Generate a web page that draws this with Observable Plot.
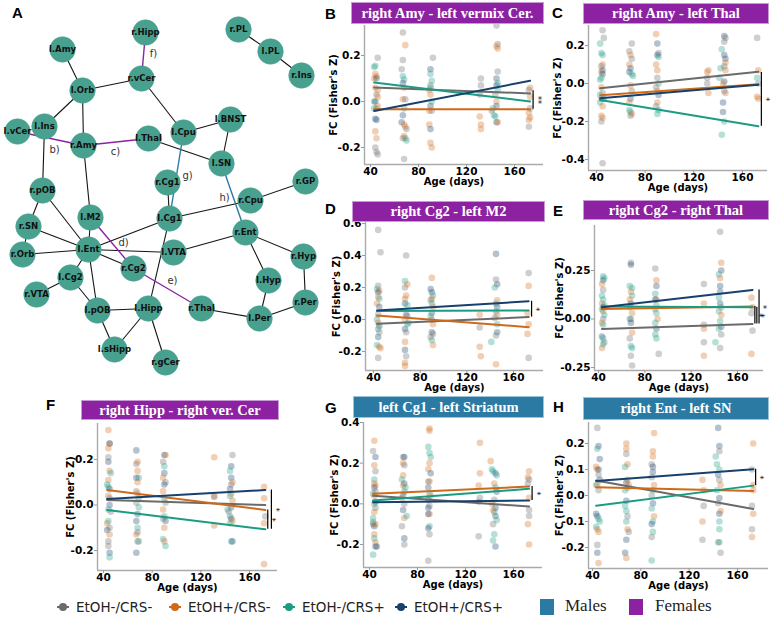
<!DOCTYPE html>
<html><head><meta charset="utf-8">
<script src="https://cdn.jsdelivr.net/npm/d3@7"></script>
<script src="https://cdn.jsdelivr.net/npm/@observablehq/plot@0.6"></script>
<style>
html,body{margin:0;padding:0;background:#fff;}
#fig{position:relative;width:772px;height:622px;overflow:hidden;background:#fff;}
#fig svg{position:absolute;overflow:visible;}
.letter{position:absolute;font:bold 15px "Liberation Sans",Arial,sans-serif;line-height:15px;color:#000;z-index:3;}
.banner{position:absolute;color:#fff;font:bold 14.5px "Liberation Serif","Times New Roman",serif;text-align:center;white-space:nowrap;z-index:2;}
.legend-item{position:absolute;font:13.5px "DejaVu Sans",sans-serif;color:#222;line-height:16px;white-space:nowrap;}
.sex-label{position:absolute;font:17px "Liberation Serif","Times New Roman",serif;color:#222;line-height:18px;white-space:nowrap;}
</style></head>
<body><div id="fig"></div>
<script>
// ---------- groups ----------
const groupKeys = ["g", "o", "t", "n"];
const groupNames = ["EtOH-/CRS-", "EtOH+/CRS-", "EtOH-/CRS+", "EtOH+/CRS+"];
const groupColors = ["#6b6b6b", "#cf6a19", "#1a9c82", "#17406d"];
const sexNames = ["Males", "Females"];
const sexColors = ["#2b7aa4", "#8c22a2"];

// ---------- network (panel A) : node name, layout x, layout y ----------
const nodes = [
  ["r.Hipp",145,32],["l.Amy",62,49],["r.PL",238,29],["l.PL",270,51],["r.Ins",301,75],
  ["r.vCer",141,78],["l.Orb",82,90],["l.Ins",44,126],["l.vCer",17,131],["r.Amy",83,145],
  ["l.Thal",148,138],["l.Cpu",183,132],["l.BNST",230,119],["l.SN",221,163],["r.Cg1",167,182],
  ["r.GP",305,181],["r.Cpu",250,200],["r.pOB",42,190],["l.M2",90,217],["l.Cg1",169,218],
  ["r.SN",28,226],["r.Ent",245,232],["l.Ent",88,249],["r.Orb",22,254],["l.VTA",173,252],
  ["r.Hyp",303,256],["r.Cg2",133,268],["l.Cg2",70,277],["l.Hyp",268,280],["r.VTA",36,294],
  ["r.Per",305,302],["l.pOB",97,310],["l.Hipp",148,308],["r.Thal",201,308],["l.Per",259,318],
  ["l.sHipp",114,349],["r.gCer",165,362]
];
// edges: source, target, kind ("" = shared, "F" = females, "M" = males)
const edges = [
  ["r.PL","l.PL",""],["l.PL","r.Ins",""],
  ["l.Amy","l.Orb",""],["l.Orb","r.vCer",""],["l.Orb","l.Ins",""],["l.Orb","r.Amy",""],
  ["r.vCer","l.Cpu",""],["l.Cpu","l.BNST",""],["l.BNST","l.SN",""],["l.Thal","l.SN",""],
  ["r.Amy","l.M2",""],["l.Ins","r.pOB",""],["r.Cg1","l.Cg1",""],["l.Cg1","r.Cpu",""],
  ["r.Cpu","r.GP",""],["r.pOB","r.SN",""],["r.pOB","l.Ent",""],["r.SN","l.Ent",""],
  ["r.SN","r.Orb",""],["r.Orb","l.Ent",""],["l.M2","l.Ent",""],["l.Ent","l.Cg1",""],
  ["l.Ent","l.VTA",""],["l.Ent","r.Cg2",""],["l.Ent","l.Cg2",""],["l.Ent","l.pOB",""],
  ["l.Cg2","r.VTA",""],["l.Cg2","l.pOB",""],["l.pOB","l.Hipp",""],["l.pOB","l.sHipp",""],
  ["l.Hipp","l.sHipp",""],["l.Hipp","r.gCer",""],["l.Cg1","l.Hipp",""],["l.VTA","r.Ent",""],
  ["r.Ent","r.Hyp",""],["r.Ent","l.Hyp",""],["r.Hyp","r.Per",""],["l.Hyp","l.Per",""],
  ["l.Per","r.Per",""],["r.Thal","l.Per",""],
  ["l.vCer","r.Amy","F"],["r.Amy","l.Thal","F"],["l.M2","r.Cg2","F"],["r.Cg2","r.Thal","F"],
  ["r.vCer","r.Hipp","F"],["l.Cpu","l.Cg1","M"],["l.SN","r.Ent","M"]
];
const edgeTags = [["b)",54,149],["c)",115,151],["d)",123,242],["e)",172,280],["f)",153,53],["g)",187,175],["h)",224,197]];

// ---------- panels B-H ----------
const panelKeys = ["B","C","D","E","F","G","H"];
const panelTitles = ["right Amy - left vermix Cer.","right Amy - left Thal","right Cg2 - left M2","right Cg2 - right Thal","right Hipp - right ver. Cer","left Cg1 - left Striatum","right Ent - left SN"];
const panelSex = ["Females","Females","Females","Females","Females","Males","Males"];
const xTicks = [40, 80, 120, 160];
const yTicksByPanel = [[-0.2,0,0.2],[-0.4,-0.2,0,0.2],[-0.2,0,0.2,0.4,0.6],[-0.25,0,0.25],[-0.2,0,0.2],[-0.2,0,0.2,0.4],[-0.2,-0.1,0,0.1,0.2]];
const lineAges = [43, 173];

// individual FC values: [age, FC, group]
const ptsB = [
  [44,0.155,"t"],[43,0.15,"t"],[46,0.19,"g"],[44,0.12,"o"],[45,0.11,"o"],[43,0.1,"o"],[45,0.1,"n"],[44,0.06,"o"],[46,0.05,"o"],[45,0.03,"g"],[43,0.0,"t"],[44,0.0,"n"],[45,-0.03,"g"],[46,-0.02,"o"],[44,-0.075,"n"],[45,-0.08,"n"],[44,-0.13,"o"],[45,-0.16,"o"],[44,-0.2,"g"],[45,-0.22,"g"],[46,-0.23,"g"],[43,-0.03,"t"],[46,0.02,"o"],
  [67,0.3,"g"],[69,0.245,"o"],[67,0.18,"g"],[66,0.14,"g"],[67,0.11,"t"],[68,0.095,"t"],[67,0.08,"n"],[68,0.06,"o"],[67,0.01,"o"],[69,0.01,"g"],[68,-0.03,"t"],[67,-0.06,"n"],[66,-0.09,"n"],[68,-0.1,"o"],[69,-0.11,"o"],[70,-0.12,"g"],[69,-0.16,"t"],[70,-0.17,"t"],[67,-0.16,"g"],[68,-0.15,"o"],[68,-0.25,"g"],
  [92,0.19,"g"],[90,0.14,"n"],[90,0.12,"t"],[91,0.09,"t"],[90,0.07,"g"],[89,0.05,"o"],[90,0.03,"o"],[91,0.0,"t"],[90,-0.02,"n"],[89,-0.04,"o"],[89,-0.1,"o"],[90,-0.12,"n"],[90,-0.18,"o"],[91,-0.2,"o"],[91,-0.04,"g"],[90,0.06,"t"],
  [132,0.1,"g"],[132,0.07,"g"],[131,-0.065,"o"],[132,-0.1,"o"],[132,-0.12,"o"],[131,0.03,"g"],
  [145,0.33,"g"],[146,0.25,"g"],[145,0.24,"o"],[146,0.23,"o"],[146,0.13,"g"],[145,0.1,"n"],[146,0.08,"t"],[145,0.07,"n"],[146,0.05,"t"],[144,0.03,"g"],[145,0.0,"o"],[145,-0.02,"n"],[142,-0.03,"t"],[143,-0.06,"t"],[144,-0.065,"t"],[145,-0.09,"n"],[146,-0.09,"o"],[141,-0.04,"g"],
  [173,0.06,"o"],[172,0.05,"g"],[173,0.02,"o"],[172,-0.05,"o"],[173,-0.07,"o"],[172,-0.08,"o"],[172,-0.11,"g"],[173,-0.03,"g"]
];
const ptsC = [
  [45,0.28,"g"],[46,0.24,"g"],[43,0.21,"t"],[44,0.16,"t"],[45,0.15,"t"],[45,0.1,"o"],[44,0.09,"g"],[45,0.07,"n"],[44,0.06,"o"],[45,0.05,"n"],[44,0.03,"t"],[43,0.02,"t"],[44,-0.02,"o"],[45,-0.05,"g"],[44,-0.08,"o"],[43,-0.1,"t"],[45,-0.12,"o"],[44,-0.17,"o"],[45,-0.18,"o"],[44,-0.2,"g"],[45,-0.42,"g"],[46,-0.08,"n"],[43,-0.06,"t"],
  [69,0.21,"g"],[67,0.17,"g"],[68,0.15,"o"],[69,0.13,"g"],[67,0.1,"o"],[68,0.08,"n"],[67,0.06,"n"],[69,0.05,"t"],[70,0.04,"t"],[68,-0.01,"o"],[69,-0.04,"g"],[68,-0.08,"n"],[67,-0.14,"t"],[68,-0.15,"t"],[69,-0.16,"o"],[68,-0.17,"g"],[67,-0.1,"o"],
  [89,0.26,"o"],[90,0.21,"n"],[91,0.16,"g"],[90,0.15,"n"],[91,0.14,"t"],[89,0.1,"o"],[90,0.07,"o"],[90,0.03,"g"],[91,0.0,"t"],[89,-0.02,"g"],[90,-0.04,"o"],[91,-0.06,"n"],[90,-0.1,"o"],[91,-0.14,"t"],[90,-0.16,"t"],[89,-0.12,"g"],
  [132,0.07,"o"],[131,0.06,"o"],[131,0.03,"g"],[132,-0.05,"o"],[131,0.0,"g"],
  [145,0.25,"n"],[146,0.24,"g"],[145,0.22,"g"],[143,0.18,"t"],[145,0.15,"n"],[146,0.13,"n"],[146,0.11,"o"],[145,0.09,"g"],[142,0.08,"t"],[146,0.07,"o"],[141,0.03,"t"],[145,0.01,"n"],[144,0.0,"o"],[144,-0.1,"n"],[144,-0.15,"n"],[145,-0.2,"t"],[143,-0.27,"t"],[146,-0.05,"o"],[145,-0.04,"g"],
  [172,0.24,"g"],[173,0.07,"o"],[172,0.03,"t"],[172,-0.07,"o"],[173,-0.08,"o"],[173,0.0,"g"]
];
const ptsD = [
  [44,0.56,"g"],[46,0.42,"g"],[44,0.21,"g"],[43,0.19,"t"],[45,0.18,"o"],[44,0.17,"n"],[44,0.14,"o"],[45,0.13,"t"],[43,0.1,"o"],[45,0.08,"n"],[44,0.03,"g"],[43,0.0,"t"],[44,-0.02,"o"],[45,-0.04,"n"],[44,-0.06,"t"],[45,-0.08,"g"],[44,-0.11,"n"],[43,-0.16,"t"],[45,-0.17,"o"],[46,-0.18,"o"],[44,-0.24,"g"],
  [68,0.4,"g"],[67,0.24,"t"],[67,0.2,"g"],[69,0.22,"o"],[68,0.15,"o"],[67,0.13,"o"],[67,0.1,"n"],[69,0.09,"t"],[68,0.03,"n"],[69,0.02,"g"],[67,0.0,"o"],[69,-0.03,"t"],[67,-0.06,"n"],[68,-0.08,"g"],[67,-0.14,"o"],[67,-0.19,"n"],[68,-0.23,"g"],[67,-0.27,"o"],[67,-0.29,"o"],[70,-0.02,"t"],
  [90,0.26,"o"],[89,0.19,"n"],[90,0.17,"n"],[91,0.15,"t"],[90,0.13,"o"],[89,0.12,"g"],[90,0.1,"t"],[91,0.08,"o"],[90,0.04,"n"],[89,0.02,"t"],[90,0.0,"g"],[91,-0.03,"o"],[90,-0.08,"n"],[89,-0.11,"g"],[90,-0.13,"t"],[91,-0.16,"o"],[91,-0.09,"g"],
  [131,0.03,"o"],[131,-0.05,"g"],[131,-0.17,"o"],[132,-0.23,"o"],
  [145,0.41,"n"],[145,0.25,"g"],[146,0.22,"n"],[144,0.2,"t"],[145,0.1,"t"],[146,0.08,"n"],[145,0.05,"t"],[146,0.03,"o"],[144,0.01,"g"],[146,-0.03,"t"],[146,-0.08,"n"],[145,-0.1,"g"],[141,-0.14,"t"],[145,-0.28,"o"],[146,0.12,"o"],
  [173,0.29,"g"],[173,0.21,"o"],[172,0.04,"o"],[173,-0.03,"o"],[172,-0.09,"o"],[173,-0.24,"g"]
];
const ptsE = [
  [44,0.22,"t"],[44,0.2,"n"],[45,0.21,"t"],[43,0.18,"o"],[44,0.15,"g"],[43,0.12,"t"],[44,0.1,"t"],[43,0.08,"o"],[45,0.07,"t"],[44,0.06,"n"],[43,0.05,"t"],[44,0.04,"o"],[45,0.02,"t"],[44,0.0,"g"],[43,-0.02,"o"],[44,-0.03,"t"],[43,-0.09,"n"],[44,-0.1,"t"],[45,-0.12,"g"],[43,-0.15,"o"],[44,-0.13,"t"],
  [68,0.29,"g"],[68,0.28,"n"],[67,0.17,"t"],[69,0.16,"t"],[68,0.14,"o"],[69,0.12,"t"],[67,0.1,"o"],[68,0.08,"n"],[67,0.06,"t"],[69,0.03,"o"],[68,0.0,"t"],[67,0.0,"g"],[68,-0.02,"n"],[69,-0.07,"o"],[67,-0.1,"g"],[68,-0.14,"t"],[69,-0.15,"t"],[68,-0.19,"g"],[69,-0.24,"g"],
  [89,0.26,"g"],[90,0.2,"o"],[90,0.17,"n"],[89,0.13,"t"],[90,0.1,"o"],[89,0.1,"n"],[90,0.07,"t"],[89,0.05,"g"],[90,0.03,"t"],[91,0.0,"o"],[89,-0.02,"t"],[90,-0.05,"n"],[89,-0.08,"t"],[90,-0.1,"t"],[92,-0.18,"g"],
  [131,0.18,"g"],[131,0.08,"o"],[131,-0.03,"g"],[131,-0.05,"o"],[131,-0.12,"g"],[131,-0.19,"o"],
  [145,0.45,"g"],[146,0.29,"o"],[146,0.25,"n"],[144,0.23,"t"],[145,0.21,"o"],[145,0.17,"n"],[145,0.14,"n"],[144,0.11,"t"],[145,0.08,"n"],[146,0.06,"g"],[144,0.04,"t"],[146,0.02,"o"],[145,-0.01,"t"],[146,-0.04,"n"],[144,-0.05,"t"],[146,-0.08,"g"],[141,-0.12,"t"],[145,-0.15,"g"],
  [172,0.11,"o"],[173,0.06,"o"],[172,0.03,"g"],[173,-0.06,"g"],[172,-0.18,"o"]
];
const ptsF = [
  [44,0.33,"o"],[45,0.27,"o"],[45,0.27,"n"],[44,0.25,"o"],[44,0.21,"g"],[44,0.19,"n"],[45,0.15,"o"],[46,0.14,"t"],[44,0.11,"o"],[43,0.09,"t"],[44,0.08,"t"],[45,0.07,"n"],[44,0.04,"o"],[45,0.03,"g"],[45,0.0,"n"],[44,-0.02,"t"],[46,-0.03,"g"],[43,-0.08,"o"],[44,-0.07,"t"],[45,-0.1,"g"],[43,-0.11,"n"],[45,-0.13,"o"],[44,-0.16,"g"],[44,-0.18,"g"],[45,-0.21,"n"],[45,-0.23,"t"],
  [67,0.24,"n"],[68,0.19,"o"],[67,0.18,"g"],[68,0.15,"o"],[69,0.12,"t"],[67,0.12,"n"],[68,0.1,"o"],[67,0.06,"g"],[68,0.05,"o"],[69,0.03,"t"],[67,0.01,"g"],[69,-0.01,"t"],[68,-0.04,"n"],[67,-0.07,"n"],[68,-0.1,"t"],[67,-0.13,"o"],[68,-0.12,"g"],[69,-0.16,"t"],[67,-0.21,"n"],[68,-0.16,"g"],
  [90,0.22,"n"],[91,0.22,"o"],[89,0.19,"g"],[90,0.17,"t"],[90,0.14,"n"],[89,0.12,"o"],[91,0.1,"g"],[90,0.09,"n"],[89,0.06,"o"],[90,0.03,"t"],[91,0.01,"g"],[89,-0.02,"o"],[90,-0.05,"t"],[91,-0.07,"n"],[90,-0.1,"o"],[89,-0.15,"t"],[90,-0.16,"o"],[91,-0.18,"t"],[89,-0.06,"g"],
  [131,0.21,"o"],[131,0.04,"o"],[131,0.035,"g"],[131,-0.09,"o"],
  [146,0.22,"g"],[145,0.17,"n"],[144,0.15,"t"],[145,0.12,"n"],[146,0.1,"o"],[145,0.09,"g"],[144,0.07,"n"],[145,0.05,"o"],[144,0.04,"t"],[146,0.02,"o"],[145,-0.01,"n"],[142,-0.02,"t"],[144,-0.05,"t"],[145,-0.06,"n"],[144,-0.08,"t"],[146,-0.07,"o"],[145,-0.16,"t"],[146,-0.16,"n"],[143,-0.03,"g"],
  [172,0.08,"o"],[172,0.03,"o"],[173,-0.05,"g"],[172,-0.08,"o"],[172,-0.26,"o"]
];
const ptsG = [
  [44,0.31,"o"],[43,0.26,"g"],[45,0.23,"n"],[44,0.19,"o"],[45,0.16,"g"],[44,0.12,"t"],[44,0.1,"o"],[45,0.09,"o"],[44,0.08,"n"],[45,0.06,"g"],[43,0.05,"t"],[44,0.04,"o"],[45,0.01,"n"],[44,0.0,"t"],[45,-0.02,"g"],[44,-0.04,"o"],[43,-0.07,"t"],[43,-0.09,"t"],[43,-0.1,"g"],[44,-0.11,"n"],[45,-0.1,"o"],[44,-0.15,"o"],[44,-0.17,"t"],[45,-0.21,"n"],[46,-0.21,"n"],[43,-0.25,"t"],[45,-0.19,"o"],
  [68,0.23,"g"],[69,0.23,"n"],[68,0.2,"o"],[69,0.19,"g"],[68,0.14,"o"],[67,0.12,"t"],[69,0.1,"n"],[68,0.09,"o"],[70,0.08,"t"],[69,0.06,"t"],[68,0.04,"n"],[67,0.03,"o"],[69,0.0,"g"],[68,-0.03,"n"],[69,-0.07,"o"],[71,-0.06,"t"],[67,-0.11,"g"],[69,-0.17,"n"],[69,-0.2,"g"],
  [90,0.37,"o"],[90,0.36,"o"],[89,0.28,"t"],[90,0.25,"t"],[91,0.23,"t"],[90,0.2,"o"],[89,0.17,"o"],[91,0.15,"n"],[90,0.11,"o"],[89,0.11,"g"],[89,0.08,"n"],[90,0.05,"t"],[91,0.04,"o"],[89,0.02,"n"],[90,-0.01,"g"],[89,-0.02,"n"],[90,-0.05,"o"],[89,-0.05,"n"],[90,-0.11,"t"],[89,-0.12,"n"],[90,-0.15,"g"],[89,-0.28,"g"],
  [132,0.3,"o"],[132,0.15,"o"],[131,0.09,"o"],[132,0.03,"g"],[131,0.01,"g"],[131,-0.16,"g"],
  [141,0.21,"o"],[142,0.17,"t"],[143,0.16,"t"],[145,0.15,"n"],[146,0.14,"t"],[144,0.1,"o"],[145,0.08,"t"],[146,0.06,"n"],[144,0.02,"g"],[142,0.0,"o"],[145,-0.02,"n"],[144,-0.04,"t"],[143,-0.03,"o"],[145,-0.06,"n"],[146,-0.08,"t"],[143,-0.1,"g"],[144,-0.15,"t"],[143,-0.18,"t"],[145,-0.21,"n"],
  [173,0.16,"o"],[172,0.13,"o"],[173,0.12,"g"],[172,0.1,"g"],[173,0.03,"o"],[173,-0.03,"g"],[173,-0.06,"g"],[172,-0.1,"o"],[173,-0.2,"o"]
];
const ptsH = [
  [44,0.26,"g"],[45,0.19,"n"],[44,0.18,"t"],[46,0.14,"n"],[43,0.11,"o"],[44,0.1,"o"],[45,0.1,"n"],[45,0.08,"g"],[46,0.06,"n"],[44,0.04,"o"],[43,0.04,"t"],[45,0.02,"g"],[43,-0.07,"n"],[44,-0.08,"n"],[45,-0.09,"t"],[46,-0.1,"t"],[44,-0.13,"o"],[43,-0.12,"t"],[45,-0.14,"o"],[44,-0.19,"g"],[44,-0.22,"n"],[45,-0.26,"o"],
  [68,0.2,"o"],[68,0.18,"o"],[68,0.16,"g"],[69,0.12,"o"],[67,0.11,"t"],[69,0.06,"o"],[68,0.05,"n"],[70,0.04,"o"],[69,0.03,"g"],[67,0.02,"t"],[68,-0.02,"n"],[67,-0.04,"t"],[68,-0.06,"t"],[69,-0.08,"g"],[68,-0.1,"t"],[69,-0.13,"o"],[70,-0.14,"g"],[68,-0.17,"n"],[67,-0.22,"n"],[68,-0.24,"o"],
  [91,0.24,"o"],[90,0.17,"o"],[90,0.15,"o"],[89,0.12,"g"],[90,0.11,"n"],[90,0.09,"n"],[89,0.07,"g"],[91,0.04,"o"],[90,0.02,"t"],[89,0.0,"g"],[90,-0.03,"n"],[89,-0.05,"t"],[91,-0.08,"o"],[90,-0.1,"t"],[89,-0.11,"n"],[90,-0.14,"t"],[89,-0.16,"g"],[89,-0.25,"t"],
  [131,0.06,"o"],[132,0.02,"o"],[132,-0.04,"g"],[131,-0.1,"o"],[131,-0.17,"g"],
  [144,0.26,"n"],[145,0.19,"n"],[145,0.17,"g"],[142,0.15,"t"],[143,0.12,"t"],[145,0.1,"t"],[144,0.08,"n"],[145,0.06,"g"],[146,0.04,"o"],[143,0.02,"t"],[145,-0.01,"n"],[144,-0.03,"g"],[145,-0.07,"n"],[146,-0.06,"o"],[145,-0.1,"t"],[145,-0.13,"t"],[144,-0.18,"g"],[145,-0.18,"t"],[146,-0.22,"g"],
  [173,0.2,"o"],[172,0.1,"g"],[173,0.04,"o"],[173,0.02,"o"],[172,-0.04,"g"],[173,-0.07,"o"],[172,-0.13,"g"],[172,-0.16,"o"]
];

// fitted lines: group, FC at first age, FC at last age
const fitB = [["g",0.061,0.035],["o",-0.034,-0.034],["t",0.083,0.0],["n",-0.041,0.09]];
const fitC = [["g",-0.025,0.062],["o",-0.062,-0.004],["t",-0.087,-0.225],["n",-0.078,-0.007]];
const fitD = [["g",-0.027,0.015],["o",0.025,-0.048],["t",0.053,0.057],["n",0.057,0.114]];
const fitE = [["g",-0.052,-0.026],["o",0.052,0.064],["t",0.064,0.06],["n",0.06,0.15]];
const fitF = [["g",0.022,0.0],["o",0.066,-0.022],["t",-0.022,-0.107],["n",0.026,0.066]];
const fitG = [["g",0.04,-0.013],["o",0.049,0.085],["t",0.016,0.074],["n",0.008,0.016]];
const fitH = [["g",0.058,-0.052],["o",0.032,0.017],["t",-0.039,0.038],["n",0.056,0.101]];

// slope comparisons: age, FC top, FC bottom, stars
const sigB = [[175.5,0.047,-0.034,"**"]];
const sigC = [[175.5,0.058,-0.225,"*"]];
const sigD = [[175.5,0.114,0.015,"*"]];
const sigE = [[175,0.064,-0.026,"*"],[176.7,0.06,-0.026,"*"],[178.6,0.15,-0.026,"*"]];
const sigF = [[175,-0.022,-0.107,"*"],[178,0.066,-0.107,"*"]];
const sigG = [[175.5,0.085,0.016,"*"]];
const sigH = [[175,0.101,0.038,"*"]];

const panelPoints = [ptsB, ptsC, ptsD, ptsE, ptsF, ptsG, ptsH];
const panelFits = [fitB, fitC, fitD, fitE, fitF, fitG, fitH];
const panelSig = [sigB, sigC, sigD, sigE, sigF, sigG, sigH];

// ---------- page layout (pixels) ----------
const frames = {
  B: {left:364,right:543,top:25,bottom:164,x40:370,x160:514,ya:[0.2,55],yb:[-0.2,147],dec:1,ylab:31,banner:[352,3,191,20],letter:[325,6]},
  C: {left:588,right:767,top:25,bottom:170,x40:596,x160:742,ya:[0.2,45],yb:[-0.4,159],dec:1,ylab:31,banner:[584,4,184,19],letter:[552,5]},
  D: {left:365,right:543,top:222,bottom:370,x40:373,x160:513,ya:[0.6,223],yb:[-0.2,351],dec:1,ylab:29,banner:[353,202,191,19],letter:[325,201]},
  E: {left:594,right:763,top:225,bottom:370,x40:598,x160:737,ya:[0.25,270],yb:[-0.25,367],dec:2,ylab:35,banner:[584,201,184,18],letter:[553,203]},
  F: {left:97,right:277,top:423,bottom:570,x40:103,x160:249,ya:[0.2,459],yb:[-0.2,550],dec:1,ylab:27,banner:[82,401,196,18],letter:[46,397]},
  G: {left:363,right:542,top:422,bottom:567,x40:369,x160:513,ya:[0.4,422],yb:[-0.2,544],dec:1,ylab:29,banner:[354,397,189,20],letter:[325,400]},
  H: {left:588,right:768,top:422,bottom:568,x40:592,x160:737,ya:[0.2,443],yb:[-0.2,547],dec:1,ylab:29,banner:[584,398,184,21],letter:[553,399]}
};

const fig = document.getElementById("fig");
const sexColorOf = Object.fromEntries(sexNames.map((s, i) => [s, sexColors[i]]));

function place(el, left, top) {
  el.style.position = "absolute";
  el.style.left = left + "px";
  el.style.top = top + "px";
  fig.appendChild(el);
}
function addLetter(txt, left, top) {
  const d = document.createElement("div");
  d.className = "letter";
  d.textContent = txt;
  d.style.left = left + "px";
  d.style.top = top + "px";
  fig.appendChild(d);
}

// ---------- panel A: network ----------
{
  const pos = new Map(nodes.map(n => [n[0], n]));
  const links = edges.map(([a, b, k]) => ({x1: pos.get(a)[1], y1: pos.get(a)[2], x2: pos.get(b)[1], y2: pos.get(b)[2], k}));
  const net = Plot.plot({
    width: 320, height: 430, margin: 0,
    x: {domain: [0, 320], range: [0, 320], axis: null},
    y: {domain: [0, 430], range: [0, 430], axis: null},
    style: {background: "transparent", fontFamily: "DejaVu Sans", overflow: "visible"},
    marks: [
      Plot.link(links.filter(l => l.k === ""), {x1: "x1", y1: "y1", x2: "x2", y2: "y2", stroke: "#151515", strokeWidth: 1.1}),
      Plot.link(links.filter(l => l.k === "F"), {x1: "x1", y1: "y1", x2: "x2", y2: "y2", stroke: sexColors[1], strokeWidth: 1.4}),
      Plot.link(links.filter(l => l.k === "M"), {x1: "x1", y1: "y1", x2: "x2", y2: "y2", stroke: sexColors[0], strokeWidth: 1.4}),
      Plot.dot(nodes, {x: d => d[1], y: d => d[2], r: 12.8, fill: "#48a08f", stroke: "#48a08f", strokeWidth: 0.5}),
      Plot.text(nodes, {x: d => d[1], y: d => d[2], text: d => d[0], fontSize: 8.5, fontWeight: "bold", fill: "#111"}),
      Plot.text(edgeTags, {x: d => d[1], y: d => d[2], text: d => d[0], fontSize: 10, fill: "#333"})
    ]
  });
  place(net, 0, 0);
  addLetter("A", 12, 5);
}

// ---------- panels B-H ----------
panelKeys.forEach((key, i) => {
  const f = frames[key];
  const mL = 56, mR = 14, mT = 8, mB = 30;
  const kx = 120 / (f.x160 - f.x40);
  const xDom = [40 + (f.left - f.x40) * kx, 40 + (f.right - f.x40) * kx];
  const ky = (f.yb[0] - f.ya[0]) / (f.yb[1] - f.ya[1]);
  const yDom = [f.ya[0] + (f.bottom - f.ya[1]) * ky, f.ya[0] + (f.top - f.ya[1]) * ky];
  const fitRows = panelFits[i].flatMap(([g, a, b]) => [{age: lineAges[0], fc: a, g}, {age: lineAges[1], fc: b, g}]);
  const sig = panelSig[i];
  const chart = Plot.plot({
    width: f.right - f.left + mL + mR,
    height: f.bottom - f.top + mT + mB,
    marginLeft: mL, marginRight: mR, marginTop: mT, marginBottom: mB,
    x: {domain: xDom},
    y: {domain: yDom},
    color: {domain: groupKeys, range: groupColors},
    style: {background: "transparent", fontFamily: "DejaVu Sans", fontSize: "10.5px", fontWeight: "bold", color: "#000", overflow: "visible"},
    marks: [
      Plot.dot(panelPoints[i], {x: d => d[0], y: d => d[1], fill: d => d[2], r: 3.3, fillOpacity: 0.32}),
      Plot.line(fitRows, {x: "age", y: "fc", z: "g", stroke: "g", strokeWidth: 2}),
      Plot.ruleX(sig, {x: d => d[0], y1: d => d[1], y2: d => d[2], stroke: "#000", strokeWidth: 1.2}),
      Plot.text(sig, {x: d => d[0], y: d => (d[1] + d[2]) / 2, text: d => d[3], rotate: 90, dx: 4, fontSize: 8, fontWeight: "normal", fill: "#000"}),
      Plot.ruleX([xDom[0]], {stroke: "#aaa", strokeWidth: 1.4}),
      Plot.ruleY([yDom[0]], {stroke: "#aaa", strokeWidth: 1.4}),
      Plot.axisX({ticks: xTicks, tickSize: 3, tickPadding: 0, stroke: "#999", fill: "#000", label: null, tickFormat: d => String(d)}),
      Plot.axisY({ticks: yTicksByPanel[i], tickSize: 3, tickPadding: 1, stroke: "#999", fill: "#000", label: null, tickFormat: d => d.toFixed(f.dec)}),
      Plot.text(["Age (days)"], {frameAnchor: "bottom", textAnchor: "middle", lineAnchor: "middle", dy: 17, text: d => d, fontSize: 10, fontWeight: "bold", fill: "#000"}),
      Plot.text(["FC (Fisher's Z)"], {frameAnchor: "left", textAnchor: "middle", lineAnchor: "middle", rotate: -90, dx: -f.ylab, text: d => d, fontSize: 10, fontWeight: "bold", fill: "#000"})
    ]
  });
  place(chart, f.left - mL, f.top - mT);

  const [bx, by, bw, bh] = f.banner;
  const b = document.createElement("div");
  b.className = "banner";
  b.textContent = panelTitles[i];
  const col = sexColorOf[panelSex[i]];
  Object.assign(b.style, {left: bx + "px", top: by + "px", width: bw + "px", height: bh + "px", lineHeight: bh + "px", background: col,
    boxShadow: panelSex[i] === "Females" ? "0 0 0 1px #c79ad6" : "0 0 0 1px #9cc3d8"});
  fig.appendChild(b);
  addLetter(key, f.letter[0], f.letter[1]);
});

// ---------- legend ----------
const legendTextX = [76, 188, 302, 414];
groupNames.forEach((name, i) => {
  const ns = "http://www.w3.org/2000/svg";
  const s = document.createElementNS(ns, "svg");
  s.setAttribute("width", 14); s.setAttribute("height", 12);
  const ln = document.createElementNS(ns, "line");
  ln.setAttribute("x1", 1); ln.setAttribute("x2", 13); ln.setAttribute("y1", 6); ln.setAttribute("y2", 6);
  ln.setAttribute("stroke", groupColors[i]); ln.setAttribute("stroke-width", 2);
  const c = document.createElementNS(ns, "circle");
  c.setAttribute("cx", 7); c.setAttribute("cy", 6); c.setAttribute("r", 4); c.setAttribute("fill", groupColors[i]);
  s.appendChild(ln); s.appendChild(c);
  s.style.left = (legendTextX[i] - 20) + "px"; s.style.top = "601px";
  fig.appendChild(s);
  const t = document.createElement("div");
  t.className = "legend-item";
  t.textContent = name;
  t.style.left = legendTextX[i] + "px"; t.style.top = "599px";
  fig.appendChild(t);
});
const sexSwatchX = [540, 629];
const sexTextX = [565, 655];
sexNames.forEach((name, i) => {
  const sq = document.createElement("div");
  Object.assign(sq.style, {position: "absolute", left: sexSwatchX[i] + "px", top: "599px", width: "14px", height: "16px", background: sexColors[i]});
  fig.appendChild(sq);
  const t = document.createElement("div");
  t.className = "sex-label";
  t.textContent = name;
  t.style.left = sexTextX[i] + "px"; t.style.top = "597px";
  fig.appendChild(t);
});
</script>
</body></html>
